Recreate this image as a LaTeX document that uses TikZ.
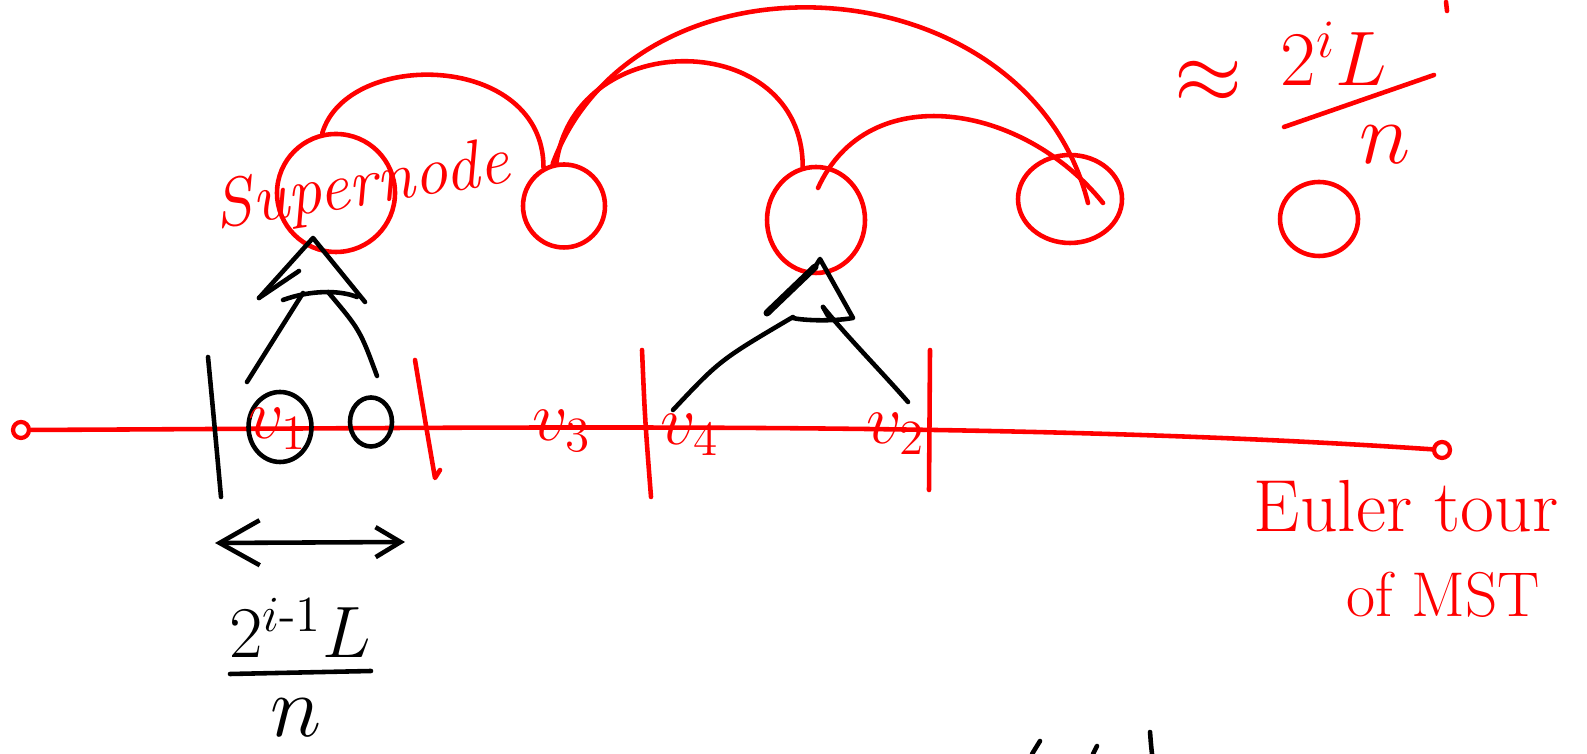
\RequirePackage{fix-cm}
\documentclass[tikz,border=0pt]{standalone}
\usepackage{amsmath}
\usepackage{xcolor}
\usepackage{tikz}
\usetikzlibrary{shapes.geometric, arrows.meta, positioning, calc}
\definecolor{penred}{RGB}{255, 0, 0}
\definecolor{penblack}{RGB}{0, 0, 0}

\begin{document}
\begin{tikzpicture}[
    x=0.1mm, y=-0.1mm,
    line cap=round, line join=round,
    redpen/.style={draw=penred, line width=1.3pt},
    blackpen/.style={draw=penblack, line width=1.3pt},
    supernode/.style={ellipse, draw=penred, line width=1.3pt, inner sep=0pt},
    vring/.style={ellipse, draw=penblack, line width=1.3pt, inner sep=0pt},
    endpoint/.style={circle, draw=penred, line width=1.2pt, minimum size=1.6mm, inner sep=0pt},
    redtext/.style={text=penred, inner sep=0pt},
    blacktext/.style={text=penblack, inner sep=0pt},
    vlabel/.style={text=penred, inner sep=0pt, font=\fontsize{20}{22}\selectfont},
    bigmath/.style={inner sep=0pt, font=\fontsize{24.88}{28}\selectfont},
    midmath/.style={inner sep=0pt, font=\fontsize{20.74}{24}\selectfont}
]
\useasboundingbox (0,0) rectangle (1587,754);

% Euler tour line
\node[endpoint] (e1) at (21,430) {};
\node[endpoint] (e2) at (1442,450) {};
\draw[redpen] (e1) .. controls (500,428) and (1000,420) .. (e2);

% Cuts on the line
\draw[blackpen] (208,357) .. controls (214,420) .. (221,497);
\draw[redpen] (415,360) .. controls (425,420) .. (435,478) -- (440,470);
\draw[redpen] (642,350) .. controls (645,420) .. (651,497);
\draw[redpen] (930,350) -- (929,490);

% Vertices on the line
\node[vring, minimum width=0.63cm, minimum height=0.70cm] (r1) at (280,427) {};
\node[vring, minimum width=0.42cm, minimum height=0.49cm] (r2) at (371,422) {};
\node[vlabel] (v1) at (278,429) {$v_1$};
\node[vlabel] (v3) at (562,431) {$v_3$};
\node[vlabel] (v4) at (690,435) {$v_4$};
\node[vlabel] (v2) at (896,434) {$v_2$};

% Supernodes
\node[supernode, minimum width=1.18cm, minimum height=1.18cm] (s1) at (336,193) {};
\node[supernode, minimum width=0.82cm, minimum height=0.83cm] (s2) at (564,206) {};
\node[supernode, minimum width=0.98cm, minimum height=1.06cm] (s3) at (816,220) {};
\node[supernode, minimum width=1.04cm, minimum height=0.88cm] (s4) at (1070,199) {};
\node[supernode, minimum width=0.78cm, minimum height=0.74cm] (s5) at (1319,219) {};

\node[redtext, rotate=9, font=\fontsize{19.5}{22}\selectfont\itshape] (sntext) at (362,188) {Supernode};

% Arcs between supernodes
\draw[redpen] (s1.103) .. controls +(25,-85) and +(0,-115) .. (s2.118);
\draw[redpen] (s2.100) .. controls +(20,-138) and +(0,-138) .. (s3.104);
\draw[redpen] (s2.105) .. controls +(85,-227) and +(-60,-240) .. ($(s4.center)+(18,4)$);
\draw[redpen] ($(s3.center)+(2,-32)$) .. controls +(50,-110) and +(-80,-100) .. ($(s4.center)+(33,4)$);

% Trees under the supernodes
\draw[blackpen] (259,298) -- (313,238) -- (365,302);
\draw[blackpen] (259,298) -- (299,271);
\draw[blackpen] (283,300) .. controls (310,290) and (340,290) .. (357,297);
\draw[blackpen] (247,382) -- (303,293);
\draw[blackpen] (377,376) .. controls (360,330) .. (328,292);
\draw[blackpen, line width=2pt] (767,313) -- (815,267);
\draw[blackpen] (815,267) -- (820,259) -- (853,318) .. controls (830,322) and (800,320) .. (793,318);
\draw[blackpen] (823,307) -- (828,316);
\draw[blackpen] (673,410) .. controls (720,360) .. (793,317);
\draw[blackpen] (823,307) .. controls (850,340) and (880,370) .. (908,402);

% Width of a cut
\coordinate (spanL) at (215,543);
\coordinate (spanR) at (405,542);
\draw[blackpen, {Straight Barb[length=4mm,width=4.5mm]}-{Straight Barb[length=2.5mm,width=3mm]}] (spanL) -- (spanR);
\node[blacktext, midmath, anchor=base] (cutw) at (300,658) {$2^{i\text{-}1}L$};
\node[blacktext, bigmath] (cutn) at (296,718) {$n$};
\draw[blackpen] (230,674) -- (371,671);

% Estimate at the right
\node[redtext, bigmath] (approx) at (1208,82) {$\approx$};
\node[redtext, inner sep=0pt, font=\fontsize{22}{26}\selectfont, anchor=base] (estw) at (1334,86) {$2^{i}L$};
\node[redtext, bigmath] (estn) at (1385,145) {$n$};
\draw[redpen] (1284,127) -- (1434,75);
\draw[redpen] (1446,2) -- (1447,11);

% Euler tour note
\node[redtext, font=\fontsize{21}{24}\selectfont, anchor=base] (euler) at (1406,532) {Euler tour};
\node[redtext, font=\fontsize{18}{20}\selectfont, anchor=base] (ofmst) at (1443,617) {of MST};

% Marks at the bottom edge
\draw[blackpen] (1040,741) -- (1032,754);
\draw[blackpen] (1097,746) -- (1093,754);
\draw[blackpen] (1150,732) .. controls (1151,745) .. (1152,754);

\end{tikzpicture}
\end{document}
